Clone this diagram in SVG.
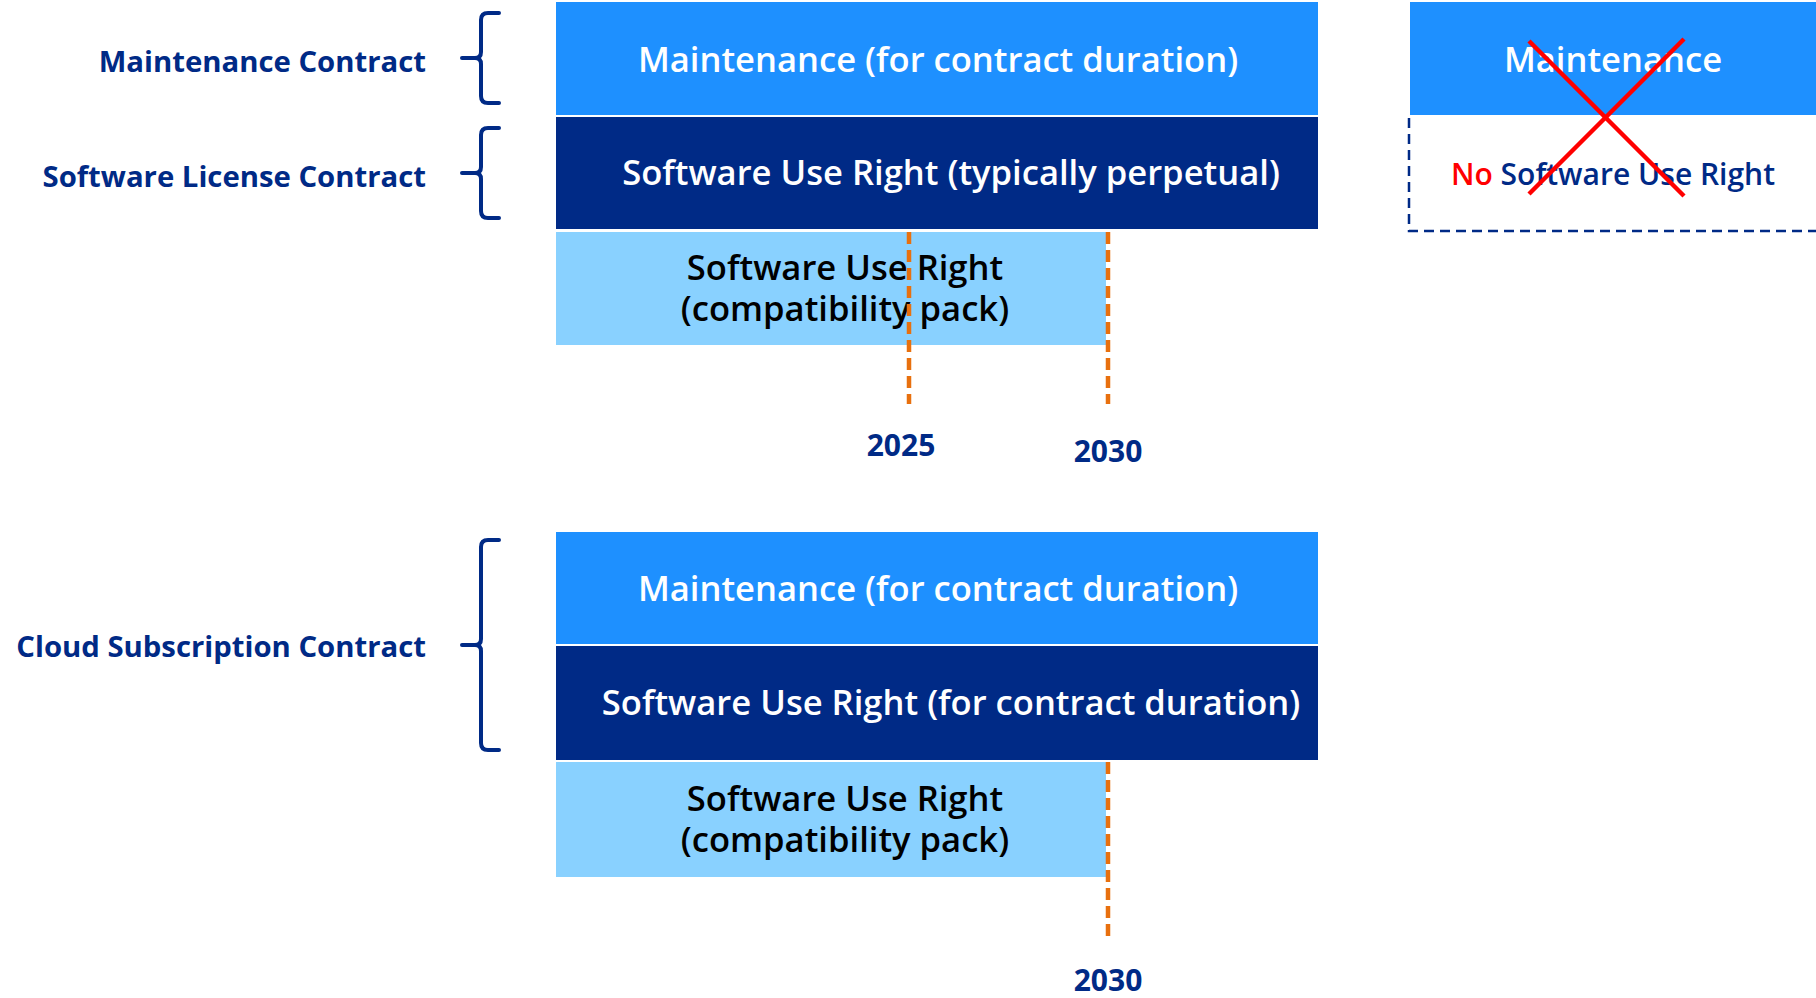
<svg xmlns="http://www.w3.org/2000/svg" width="1816" height="998" viewBox="0 0 1816 998">
<style>
  .bg { fill: #ffffff; }
  .maint { fill: #1E90FF; }
  .navy { fill: #002A86; }
  .light { fill: #89D1FF; }
  .boxtxt { font-family: "Open Sans", "Noto Sans", sans-serif; font-size: 34.6px; font-weight: 600; text-anchor: middle; }
  .white { fill: #ffffff; }
  .black { fill: #000000; }
  .label { font-family: "Open Sans", "Noto Sans", sans-serif; font-size: 29.3px; font-weight: 700; fill: #002A86; text-anchor: end; }
  .year { font-family: "Open Sans", "Noto Sans", sans-serif; font-size: 30px; font-weight: 700; fill: #002A86; text-anchor: middle; }
  .brace { fill: none; stroke: #002A86; stroke-width: 4; stroke-linecap: round; stroke-linejoin: round; }
  .year-line { stroke: #E8700E; stroke-width: 4.5; stroke-dasharray: 12 6; fill: none; }
  .dashbox { stroke: #002A86; stroke-width: 2.5; stroke-dasharray: 10 6; fill: none; }
  .cross { stroke: #FF0000; stroke-width: 4.5; stroke-linecap: butt; }
</style>
<rect class="bg" x="0" y="0" width="1816" height="998"/>

<g id="label-maintenance-contract">
  <text class="label" x="426" y="72">Maintenance Contract</text>
  <path class="brace" d="M499,13 H488 Q481,13 481,20 V52 Q481,58 475,58 H462 M475,58 Q481,58 481,64 V96 Q481,103 488,103 H499"/>
</g>
<g id="label-software-license-contract">
  <text class="label" x="426" y="187">Software License Contract</text>
  <path class="brace" d="M499,128 H488 Q481,128 481,135 V167 Q481,173 475,173 H462 M475,173 Q481,173 481,179 V211 Q481,218 488,218 H499"/>
</g>
<g id="label-cloud-subscription-contract">
  <text class="label" x="426" y="657">Cloud Subscription Contract</text>
  <path class="brace" d="M499,540 H488 Q481,540 481,547 V639 Q481,645 475,645 H462 M475,645 Q481,645 481,651 V743 Q481,750 488,750 H499"/>
</g>

<g id="box-maintenance-1">
  <rect class="maint" x="556" y="2" width="762" height="113"/>
  <text class="boxtxt white" x="938" y="72">Maintenance (for contract duration)</text>
</g>
<g id="box-use-right-perpetual">
  <rect class="navy" x="556" y="117" width="762" height="112"/>
  <text class="boxtxt white" x="951" y="185">Software Use Right (typically perpetual)</text>
</g>
<g id="box-compat-1">
  <rect class="light" x="556" y="232" width="550" height="113"/>
  <text class="boxtxt black" x="845" y="280">Software Use Right<tspan x="845" dy="41">(compatibility pack)</tspan></text>
</g>

<g id="box-maintenance-right">
  <rect class="maint" x="1410" y="2" width="406" height="113"/>
  <text class="boxtxt white" x="1613" y="72">Maintenance</text>
</g>
<g id="box-no-use-right">
  <path class="dashbox" d="M1409,118 V231 H1816"/>
  <text x="1613" y="185" style="font-family: 'Open Sans', 'Noto Sans', sans-serif; font-size: 30px; font-weight: 600; text-anchor: middle;"><tspan fill="#FF0000">No</tspan><tspan fill="#002A86"> Software Use Right</tspan></text>
</g>
<g id="cross">
  <line class="cross" x1="1529" y1="41" x2="1684" y2="196"/>
  <line class="cross" x1="1684" y1="39" x2="1529" y2="194"/>
</g>

<g id="box-maintenance-2">
  <rect class="maint" x="556" y="532" width="762" height="112"/>
  <text class="boxtxt white" x="938" y="601">Maintenance (for contract duration)</text>
</g>
<g id="box-use-right-contract">
  <rect class="navy" x="556" y="646" width="762" height="114"/>
  <text class="boxtxt white" x="951" y="715">Software Use Right (for contract duration)</text>
</g>
<g id="box-compat-2">
  <rect class="light" x="556" y="762" width="550" height="115"/>
  <text class="boxtxt black" x="845" y="811">Software Use Right<tspan x="845" dy="41">(compatibility pack)</tspan></text>
</g>

<g id="connectors">
  <line class="year-line" x1="909" y1="232" x2="909" y2="404"/>
  <line class="year-line" x1="1108" y1="232" x2="1108" y2="404"/>
  <line class="year-line" x1="1108" y1="762" x2="1108" y2="936"/>
</g>

<g id="year-2025">
  <text class="year" x="901" y="456">2025</text>
</g>
<g id="year-2030-a">
  <text class="year" x="1108" y="462">2030</text>
</g>
<g id="year-2030-b">
  <text class="year" x="1108" y="991">2030</text>
</g>
</svg>
